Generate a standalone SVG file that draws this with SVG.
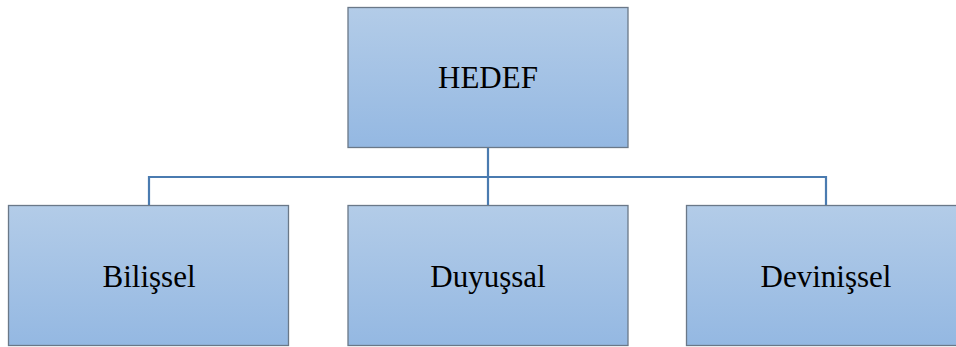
<svg xmlns="http://www.w3.org/2000/svg" width="956" height="347" viewBox="0 0 956 347">
<defs>
<linearGradient id="g" x1="0" y1="0" x2="0" y2="1">
<stop offset="0" stop-color="#b3cce8"/>
<stop offset="1" stop-color="#94b8e2"/>
</linearGradient>
<style>
.box{fill:url(#g);stroke:#6a7888;stroke-width:1.3}
.t{font-family:"Liberation Serif","Times New Roman",serif;font-size:31px;fill:#000;text-anchor:middle}
.c{fill:none;stroke:#4a7bb0;stroke-width:2.2}
</style>
</defs>
<rect width="956" height="347" fill="#fff"/>
<g id="connectors">
<path class="c" d="M488 148 V177 M149 205 V177 H826 V205 M488 177 V205"/>
</g>
<g id="hedef">
<rect class="box" x="348" y="7.5" width="280" height="140"/>
<text class="t" x="488" y="88">HEDEF</text>
</g>
<g id="bilissel">
<rect class="box" x="8.5" y="205.5" width="280" height="140"/>
<text class="t" x="149" y="287">Bilişsel</text>
</g>
<g id="duyussal">
<rect class="box" x="348" y="205.5" width="280" height="140"/>
<text class="t" x="488" y="287">Duyuşsal</text>
</g>
<g id="devinissel">
<rect class="box" x="686.5" y="205.5" width="280" height="140"/>
<text class="t" x="826" y="287">Devinişsel</text>
</g>
</svg>
